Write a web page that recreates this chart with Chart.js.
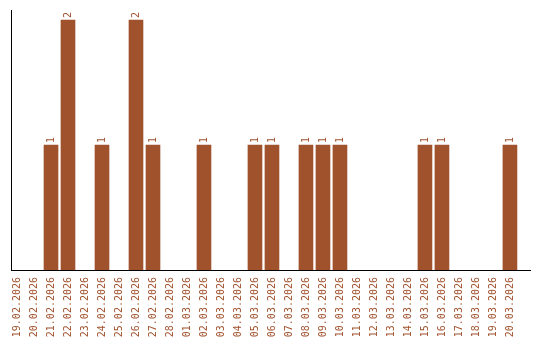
<!DOCTYPE html>
<html>
<head>
<meta charset="utf-8">
<script src="https://cdn.jsdelivr.net/npm/chart.js@4"></script>
<style>
  html, body { margin: 0; padding: 0; background: #fff; }
  #wrap { width: 540px; height: 340px; }
</style>
</head>
<body>
<div id="wrap"><canvas id="chart"></canvas></div>
<script>
const dates = [
  "19.02.2026", "20.02.2026", "21.02.2026", "22.02.2026", "23.02.2026",
  "24.02.2026", "25.02.2026", "26.02.2026", "27.02.2026", "28.02.2026",
  "01.03.2026", "02.03.2026", "03.03.2026", "04.03.2026", "05.03.2026",
  "06.03.2026", "07.03.2026", "08.03.2026", "09.03.2026", "10.03.2026",
  "11.03.2026", "12.03.2026", "13.03.2026", "14.03.2026", "15.03.2026",
  "16.03.2026", "17.03.2026", "18.03.2026", "19.03.2026", "20.03.2026"
];
const counts = [
  0, 0, 1, 2, 0,
  1, 0, 2, 1, 0,
  0, 1, 0, 0, 1,
  1, 0, 1, 1, 1,
  0, 0, 0, 0, 1,
  1, 0, 0, 0, 1
];

const barColor = "#a0522d";
const labelFont = "10px 'DejaVu Sans Mono', monospace";

// numbers on top of each bar, turned upright like the axis labels
const valueLabels = {
  id: "valueLabels",
  afterDatasetsDraw(chart) {
    const ctx = chart.ctx;
    const meta = chart.getDatasetMeta(0);
    ctx.save();
    ctx.font = labelFont;
    ctx.fillStyle = barColor;
    ctx.textAlign = "left";
    ctx.textBaseline = "middle";
    meta.data.forEach((bar, i) => {
      if (!counts[i]) return;
      ctx.save();
      ctx.translate(bar.x, bar.y - 2);
      ctx.rotate(-Math.PI / 2);
      ctx.fillText(String(counts[i]), 0, 0);
      ctx.restore();
    });
    ctx.restore();
  }
};

new Chart(document.getElementById("chart"), {
  type: "bar",
  data: {
    datasets: [{
      data: counts.map((v, i) => ({ x: i, y: v })),
      // empty days get no fill so nothing smears over the axis line
      backgroundColor: c => (c.raw && c.raw.y ? barColor : "transparent"),
      barThickness: 14
    }]
  },
  options: {
    responsive: true,
    maintainAspectRatio: false,
    animation: false,
    layout: { padding: { top: 10, right: 10, left: 0, bottom: 0 } },
    plugins: { legend: { display: false }, tooltip: { enabled: false } },
    scales: {
      x: {
        type: "linear",
        offset: false,
        bounds: "data",
        min: -0.353,
        max: 30.18,
        grid: { display: false, drawTicks: false, offset: false },
        border: { display: true, color: "#000", width: 1 },
        afterBuildTicks: s => { s.ticks = dates.map((d, i) => ({ value: i })); },
        afterFit: s => { s.height = 70; },
        ticks: {
          autoSkip: false,
          maxRotation: 90,
          minRotation: 90,
          padding: 7,
          color: barColor,
          font: { family: "'DejaVu Sans Mono', monospace", size: 10 },
          callback: v => dates[Math.round(v)] || ""
        }
      },
      y: {
        min: 0,
        max: 2.08,
        grid: { display: false, drawTicks: false },
        border: { display: true, color: "#000", width: 1 },
        afterFit: s => { s.width = 11; },
        ticks: { display: false }
      }
    }
  },
  plugins: [valueLabels]
});
</script>
</body>
</html>
